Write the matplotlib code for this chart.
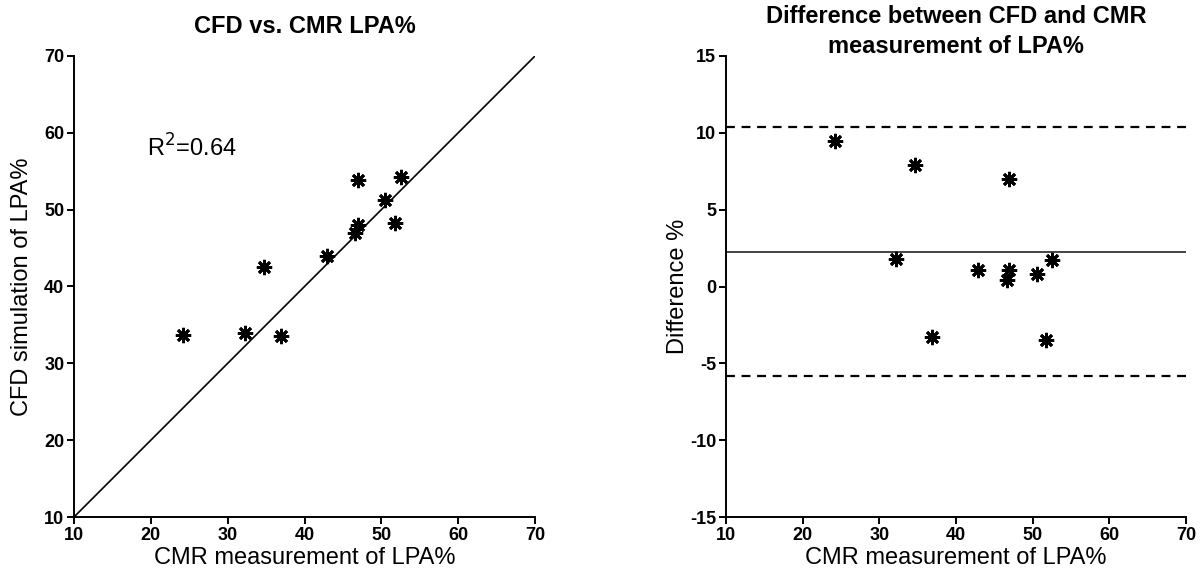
import matplotlib
matplotlib.use("Agg")
import matplotlib.pyplot as plt

# CMR vs CFD measurements of LPA%
cmr = [24.2, 32.2, 34.7, 36.9, 42.9, 46.9, 46.9, 46.6, 50.5, 52.5, 51.8]
cfd = [33.7, 34.0, 42.6, 33.6, 44.0, 53.9, 48.0, 47.0, 51.3, 54.2, 48.3]
# Bland-Altman differences (CFD - CMR)
diff = [9.5, 1.8, 7.9, -3.3, 1.1, 7.0, 1.1, 0.4, 0.8, 1.7, -3.5]
bias = 2.25
loa_upper = 10.4
loa_lower = -5.85

plt.rcParams['font.family'] = ['Liberation Sans', 'DejaVu Sans']
plt.rcParams['axes.unicode_minus'] = False

W, H = 1200, 576
fig = plt.figure(figsize=(12, 5.76), dpi=100)
ax1 = fig.add_axes([74 / W, 1 - 517 / H, 461 / W, 461 / H])
ax2 = fig.add_axes([726 / W, 1 - 517 / H, 460 / W, 461 / H])

def style(ax):
    for s in ['top', 'right']:
        ax.spines[s].set_visible(False)
    for s in ['left', 'bottom']:
        ax.spines[s].set_linewidth(1.4)
    ax.tick_params(direction='out', length=5, width=1.4, labelsize=13, pad=2)
    for lab in ax.get_xticklabels() + ax.get_yticklabels():
        lab.set_fontweight('bold')

mk = dict(marker=(8, 2, 0), linestyle='none', color='black', markersize=11, markeredgewidth=2.0)

# left: correlation
ax1.plot([10, 70], [10, 70], color='black', linewidth=1.2)
ax1.plot(cmr, cfd, **mk)
ax1.set_xlim(10, 70)
ax1.set_ylim(10, 70)
ax1.set_xticks(range(10, 71, 10))
ax1.set_yticks(range(10, 71, 10))
ax1.set_xlabel('CMR measurement of LPA%', fontsize=17, labelpad=2)
ax1.set_ylabel('CFD simulation of LPA%', fontsize=17, labelpad=8)
ax1.text(19.5, 58, 'R$^2$=0.64', fontsize=17, va='center', ha='left')
style(ax1)
fig.text((74 + 535) / 2 / W, 1 - 33 / H, 'CFD vs. CMR LPA%', fontsize=17,
         fontweight='bold', ha='center', va='baseline')

# right: Bland-Altman
ax2.axhline(bias, color='#444444', linewidth=1.4)
ax2.axhline(loa_upper, color='black', linewidth=1.6, linestyle=(0, (4, 3)))
ax2.axhline(loa_lower, color='black', linewidth=1.6, linestyle=(0, (4, 3)))
ax2.plot(cmr, diff, **mk)
ax2.set_xlim(10, 70)
ax2.set_ylim(-15, 15)
ax2.set_xticks(range(10, 71, 10))
ax2.set_yticks(range(-15, 16, 5))
ax2.set_xlabel('CMR measurement of LPA%', fontsize=17, labelpad=2)
ax2.set_ylabel('Difference %', fontsize=17, labelpad=1)
style(ax2)
cx2 = (726 + 1186) / 2 / W
fig.text(cx2, 1 - 23 / H, 'Difference between CFD and CMR', fontsize=17,
         fontweight='bold', ha='center', va='baseline')
fig.text(cx2, 1 - 53 / H, 'measurement of LPA%', fontsize=17,
         fontweight='bold', ha='center', va='baseline')

fig.savefig('out.png', dpi=100, facecolor='white')
